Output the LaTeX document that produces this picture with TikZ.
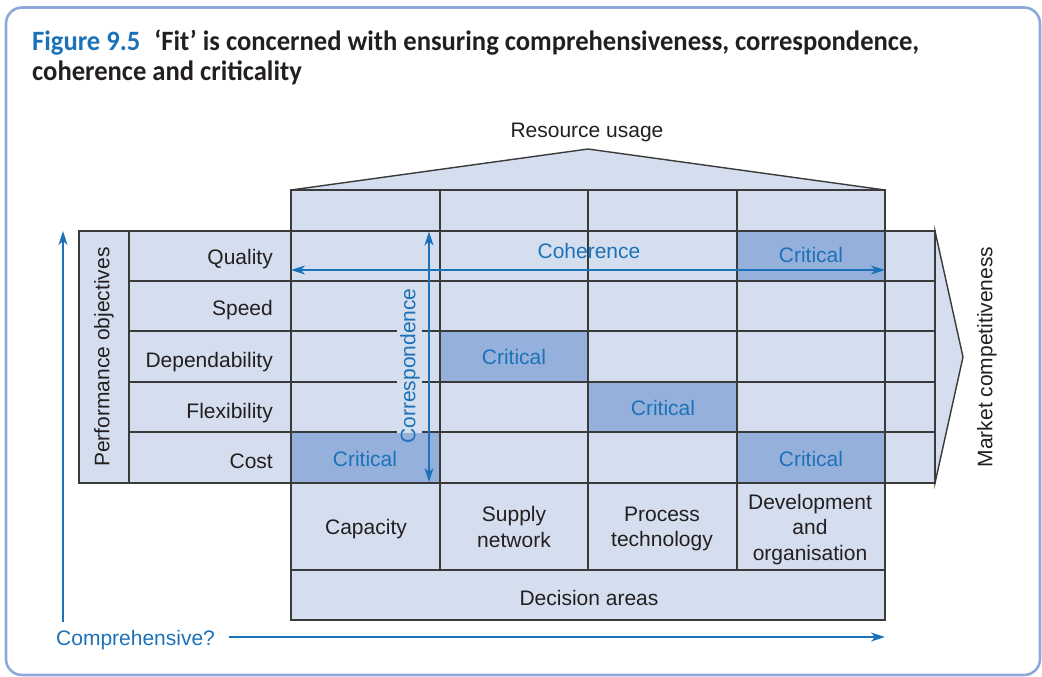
\documentclass[tikz,border=0pt]{standalone}
\usepackage{fontspec}
\setmainfont{Liberation Sans}
\newfontfamily\titlefont[FakeStretch=0.95]{Carlito}
\usetikzlibrary{arrows.meta,positioning,calc}
\definecolor{Frame}{HTML}{8DA9DB}
\definecolor{Cell}{HTML}{D5DEEF}
\definecolor{CellDark}{HTML}{95B1DB}
\definecolor{Rule}{HTML}{3A3A3A}
\definecolor{Blue}{HTML}{1C72B8}
\definecolor{Ink}{HTML}{231F20}

\begin{document}
\begin{tikzpicture}[x=1pt,y=-1pt,
  every node/.style={font=\fontsize{21}{25.5}\selectfont,text=Ink,inner sep=0pt},
  cell/.style={draw=Rule,fill=Cell,line width=1.4pt},
  critical/.style={draw=Rule,fill=CellDark,line width=1.4pt},
  bluelabel/.style={text=Blue},
  fitarrow/.style={draw=Blue,line width=1.3pt,-{Stealth[length=14pt,width=9pt,inset=4pt]}},
  fitboth/.style={fitarrow,{Stealth[length=14pt,width=9pt,inset=4pt]}-{Stealth[length=14pt,width=9pt,inset=4pt]}}]
\useasboundingbox (0,0) rectangle (1042,677);
\draw[Frame,line width=2.6pt,rounded corners=16pt] (6,7.5) rectangle (1040,675);

% caption
\node[anchor=north west,align=left,text=Ink,
  font=\titlefont\bfseries\fontsize{28}{30}\selectfont] (title) at (32,30)
  {\textcolor{Blue}{Figure 9.5}\hspace{0.5em}‘Fit’ is concerned with ensuring comprehensiveness, correspondence,\\
   coherence and criticality};

% resource usage roof and top strip
\draw[cell] (291,190) -- (588,149) -- (885,190) -- cycle;
\foreach \xa/\xb in {291/440,440/588,588/737,737/885}
  \draw[cell] (\xa,190) rectangle (\xb,231);

% performance objective rows
\draw[cell] (79,231) rectangle (129,483);
\draw[cell] (935,231) -- (963,357) -- (935,483) -- cycle;
\foreach \ya/\yb in {231/281,281/331,331/382,382/432,432/483}{
  \draw[cell] (129,\ya) rectangle (291,\yb);
  \foreach \xa/\xb in {291/440,440/588,588/737,737/885,885/935}
    \draw[cell] (\xa,\ya) rectangle (\xb,\yb);
}

% critical cells
\foreach \xa/\xb/\ya/\yb in {737/885/231/281,440/588/331/382,588/737/382/432,291/440/432/483,737/885/432/483}
  \draw[critical] (\xa,\ya) rectangle (\xb,\yb);

% decision areas
\foreach \xa/\xb in {291/440,440/588,588/737,737/885}
  \draw[cell] (\xa,483) rectangle (\xb,570);
\draw[cell] (291,570) rectangle (885,620);

% row labels
\foreach \name/\txt/\y in {quality/Quality/264.5,speed/Speed/315,depend/Dependability/367,
                          flex/Flexibility/418,cost/Cost/468.5}
  \node[anchor=base east] (\name) at (273,\y) {\txt};

\node[rotate=90] (perf) at (104,357) {Performance objectives};
\node[rotate=90] (market) at (987,357) {Market competitiveness};
\node (resource) at (587,132.5) {Resource usage};

\node (capacity) at (366,529) {Capacity};
\node[align=center] (supply) at (514,527) {Supply\\network};
\node[align=center] (process) at (662,529) {Process\\technology};
\node[align=center] (develop) at (810,529.5) {Development\\and\\organisation};
\node (decision) at (589,597.5) {Decision areas};

% critical labels
\foreach \name/\x/\y in {critA/811/255,critB/514/357,critC/663/408,critD/365/459,critE/811/459}
  \node[bluelabel] (\name) at (\x,\y) {Critical};

% coherence
\coordinate (cohL) at (291,270);
\coordinate (cohR) at (885,270);
\draw[fitboth] (cohL) -- (cohR);
\node[bluelabel] (coherence) at (589,251) {Coherence};

% correspondence
\coordinate (corrT) at (429,231.5);
\coordinate (corrB) at (429,482);
\fill[Cell] (396.5,287) rectangle (421.5,432.6);
\draw[fitboth] (corrB) -- (corrT);
\node[bluelabel,rotate=90] (corr) at (410,366) {Correspondence};

% comprehensiveness
\node[bluelabel,anchor=west] (comp) at (56,640.5) {Comprehensive?};
\coordinate (compB) at (63,622);
\coordinate (compT) at (63,231);
\coordinate (compR) at (885,637);
\draw[fitarrow] (compB) -- (compT);
\draw[fitarrow] ([xshift=14pt]comp.east |- compR) -- (compR);
\end{tikzpicture}
\end{document}
